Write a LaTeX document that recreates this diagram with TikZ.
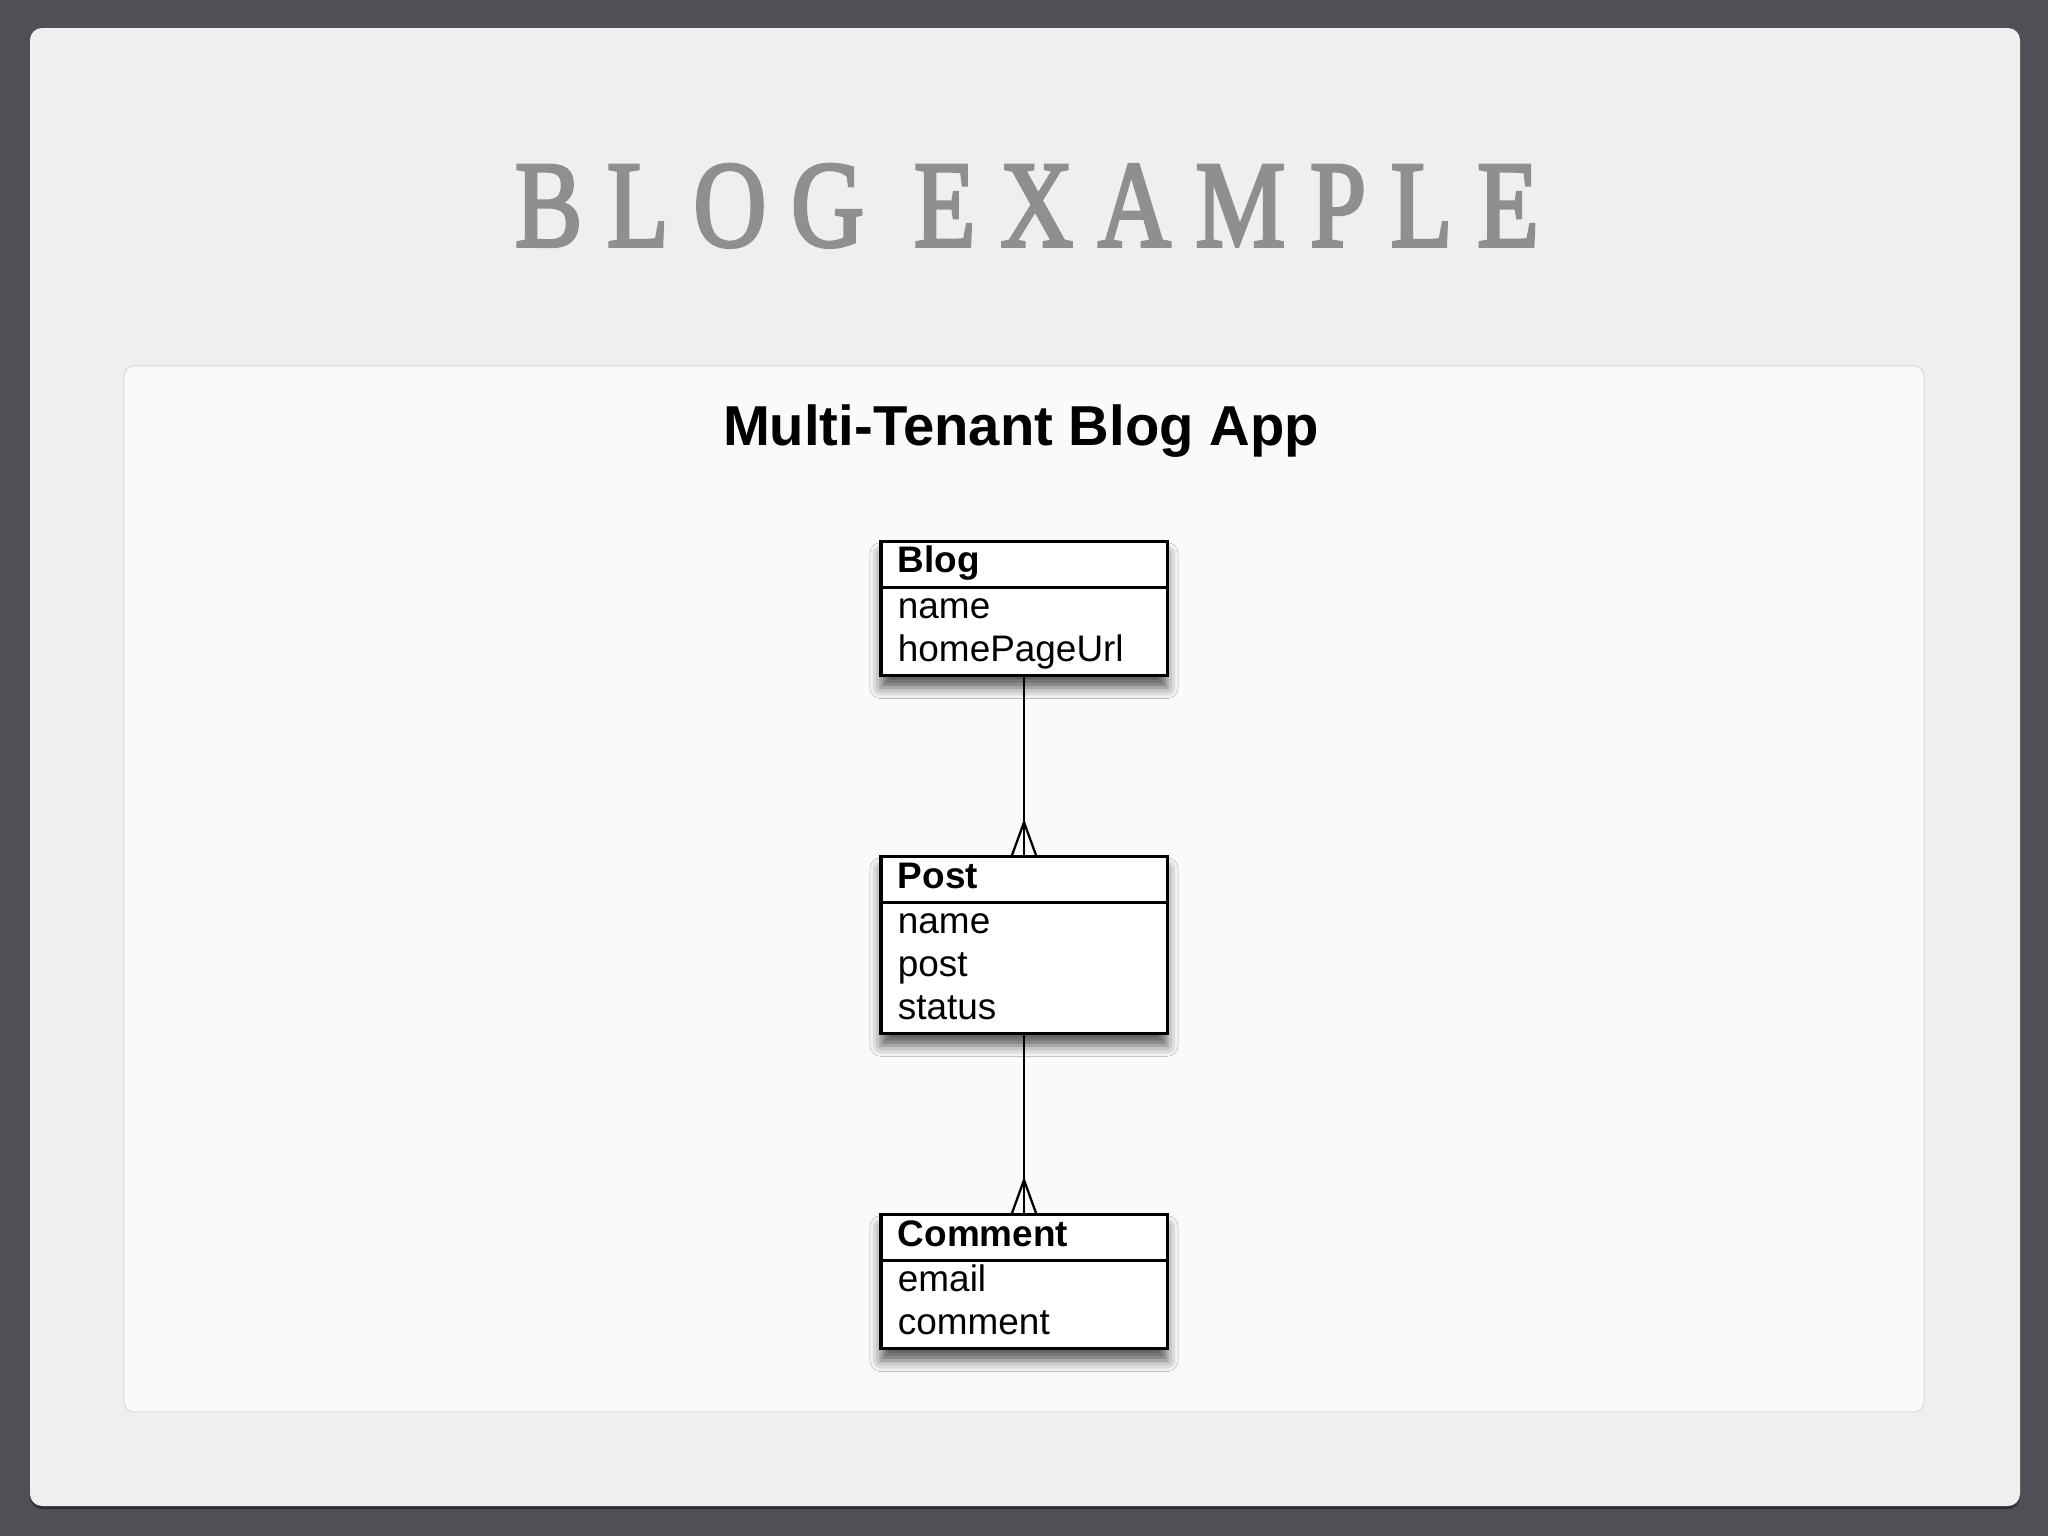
\documentclass[tikz,border=0pt]{standalone}
\usepackage{fontspec}
\setmainfont{Liberation Sans}
\newfontfamily\titlefont[LetterSpace=24.5, FakeBold=3]{Liberation Serif}
\usetikzlibrary{positioning}
\usetikzlibrary{shapes.multipart}
\usetikzlibrary{shadows.blur}
\definecolor{bgdark}{HTML}{4E5055}
\definecolor{panel}{HTML}{EFEFEF}
\definecolor{card}{HTML}{FAFAFA}
\definecolor{cardline}{HTML}{E0E0E0}
\definecolor{titlegray}{HTML}{8F8F8F}
\tikzset{
  entity/.style={rectangle split, rectangle split parts=2, draw, line width=0.9pt,
    fill=white, text width=2.52cm, inner xsep=0.17cm, inner ysep=0pt, align=left,
    font=\fontsize{10.5}{12.1}\selectfont,
    blur shadow={shadow xshift=0pt, shadow yshift=-0.12cm, shadow blur radius=0.11cm, shadow opacity=65}},
  relation/.style={line width=0.65pt},
}
\begin{document}
\begin{tikzpicture}[x=0.01cm, y=-0.01cm]
    \useasboundingbox (0,0) rectangle (2048,1536);
    % slide background
    \fill[bgdark] (0,0) rectangle (2048,1536);
    \fill[black, opacity=0.4, rounded corners=0.12cm] (30,31) rectangle (2020,1509);
    \fill[panel, rounded corners=0.12cm] (30,28) rectangle (2020,1506);
    \filldraw[fill=card, draw=cardline, line width=0.4pt, rounded corners=0.1cm] (124,366) rectangle (1924,1412);
    % titles
    \node[anchor=base, text=titlegray, font=\titlefont\fontsize{35}{40}\selectfont, xscale=0.82] (title) at (1027,246) {BLOG EXAMPLE};
    \node[anchor=base, font=\bfseries\fontsize{16}{19}\selectfont] (subtitle) at (1021,445) {Multi-Tenant Blog App};
    % entities
    \node[entity, anchor=north] (blog) at (1024,540)
      {\textbf{Blog}\strut \nodepart{two} name\strut\\ homePageUrl\strut};
    \node[entity, below=1.78cm of blog] (post)
      {\textbf{Post}\strut \nodepart{two} name\strut\\ post\strut\\ status\strut};
    \node[entity, below=1.78cm of post] (comment)
      {\textbf{Comment}\strut \nodepart{two} email\strut\\ comment\strut};
    % one-to-many links
    \coordinate[above=0.33cm of post.north] (pf);
    \coordinate[above=0.33cm of comment.north] (cf);
    \draw[relation] (blog.south) -- (post.north);
    \draw[relation] ([xshift=-0.12cm]post.north) -- (pf) -- ([xshift=0.12cm]post.north);
    \draw[relation] (post.south) -- (comment.north);
    \draw[relation] ([xshift=-0.12cm]comment.north) -- (cf) -- ([xshift=0.12cm]comment.north);
\end{tikzpicture}
\end{document}
